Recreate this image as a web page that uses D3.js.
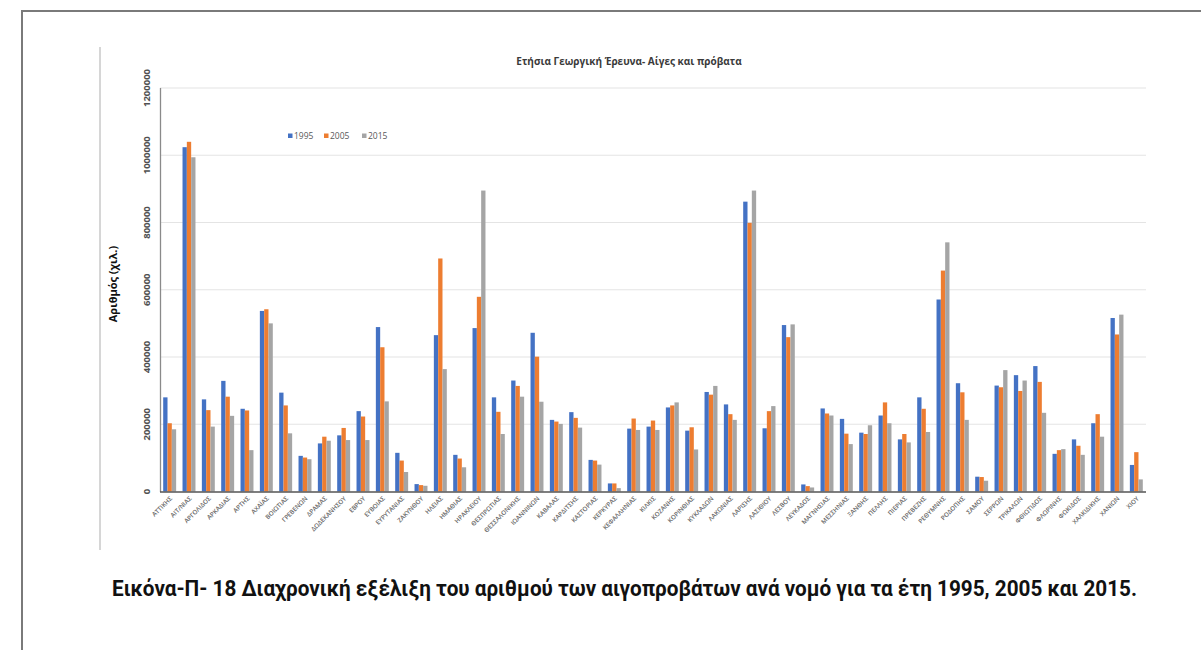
<!DOCTYPE html>
<html><head><meta charset="utf-8">
<script src="https://cdn.jsdelivr.net/npm/d3@7/dist/d3.min.js"></script>
<style>
html,body{margin:0;padding:0;background:#fff;}
svg{display:block;}
</style></head>
<body>
<svg id="c" width="1201" height="650"></svg>
<script>
const categories = ["ΑΤΤΙΚΗΣ","ΑΙΤ/ΝΙΑΣ","ΑΡΓΟΛΙΔΟΣ","ΑΡΚΑΔΙΑΣ","ΑΡΤΗΣ","ΑΧΑΪΑΣ","ΒΟΙΩΤΙΑΣ","ΓΡΕΒΕΝΩΝ","ΔΡΑΜΑΣ","ΔΩΔΕΚΑΝΗΣΟΥ","ΕΒΡΟΥ","ΕΥΒΟΙΑΣ","ΕΥΡΥΤΑΝΙΑΣ","ΖΑΚΥΝΘΟΥ","ΗΛΕΙΑΣ","ΗΜΑΘΙΑΣ","ΗΡΑΚΛΕΙΟΥ","ΘΕΣΠΡΩΤΙΑΣ","ΘΕΣΣΑΛΟΝΙΚΗΣ","ΙΩΑΝΝΙΝΩΝ","ΚΑΒΑΛΑΣ","ΚΑΡΔΙΤΣΗΣ","ΚΑΣΤΟΡΙΑΣ","ΚΕΡΚΥΡΑΣ","ΚΕΦΑΛΛΗΝΙΑΣ","ΚΙΛΚΙΣ","ΚΟΖΑΝΗΣ","ΚΟΡΙΝΘΙΑΣ","ΚΥΚΛΑΔΩΝ","ΛΑΚΩΝΙΑΣ","ΛΑΡΙΣΗΣ","ΛΑΣΙΘΙΟΥ","ΛΕΣΒΟΥ","ΛΕΥΚΑΔΟΣ","ΜΑΓΝΗΣΙΑΣ","ΜΕΣΣΗΝΙΑΣ","ΞΑΝΘΗΣ","ΠΕΛΛΗΣ","ΠΙΕΡΙΑΣ","ΠΡΕΒΕΖΗΣ","ΡΕΘΥΜΝΗΣ","ΡΟΔΟΠΗΣ","ΣΑΜΟΥ","ΣΕΡΡΩΝ","ΤΡΙΚΑΛΩΝ","ΦΘΙΩΤΙΔΟΣ","ΦΛΩΡΙΝΗΣ","ΦΩΚΙΔΟΣ","ΧΑΛΚΙΔΙΚΗΣ","ΧΑΝΙΩΝ","ΧΙΟΥ"];
const seriesNames = ["1995","2005","2015"];
const v1995 = [280000,1024000,274000,329000,246000,537000,294000,106000,143000,167000,239000,489000,115000,22000,465000,109000,486000,280000,330000,472000,213000,236000,94000,24000,187000,193000,250000,181000,296000,259000,862000,188000,495000,21000,247000,216000,175000,226000,155000,280000,571000,322000,44000,315000,346000,373000,112000,155000,203000,516000,79000];
const v2005 = [203000,1040000,242000,282000,241000,542000,256000,101000,163000,189000,223000,429000,92000,19000,693000,98000,579000,237000,314000,401000,208000,219000,92000,24000,217000,211000,256000,191000,288000,230000,799000,239000,459000,16000,232000,172000,171000,265000,171000,246000,657000,295000,43000,310000,299000,326000,123000,136000,230000,467000,117000];
const v2015 = [185000,994000,193000,225000,123000,500000,173000,96000,151000,153000,153000,268000,58000,17000,364000,72000,895000,171000,282000,267000,201000,190000,80000,10000,183000,183000,265000,125000,314000,213000,895000,254000,497000,12000,226000,141000,197000,203000,146000,177000,741000,213000,32000,361000,330000,234000,126000,109000,163000,526000,36000];
const yTicks = [0,200000,400000,600000,800000,1000000,1200000];
const colors = ["#4472C4","#ED7D31","#A5A5A5"];
const chartTitle = "Ετήσια Γεωργική Έρευνα- Αίγες και πρόβατα";
const yTitle = "Αριθμός (χιλ.)";
const caption = "Εικόνα-Π- 18 Διαχρονική εξέλιξη του αριθμού των αιγοπροβάτων ανά νομό για τα έτη 1995, 2005 και 2015.";

const values = [v1995, v2005, v2015];
const data = categories.map((c,i)=>({cat:c, vals: seriesNames.map((s,k)=>({s, v: values[k][i], k}))}));

const svg = d3.select("#c");

// page frame (top + left)
svg.append("path").attr("d","M22,650 V11 H1201").attr("fill","none").attr("stroke","#7a7a7a").attr("stroke-width",2);
// embedded image left edge
svg.append("line").attr("x1",100).attr("x2",100).attr("y1",47).attr("y2",550).attr("stroke","#c8c8c8").attr("stroke-width",1.5);

const x0 = d3.scaleBand().domain(categories).range([160,1146]).paddingInner(0.33).paddingOuter(0.165);
const x1 = d3.scaleBand().domain(seriesNames).range([0,x0.bandwidth()]);
const y = d3.scaleLinear().domain([0,1200000]).range([491.5,88]);

// gridlines
svg.append("g").selectAll("line").data(yTicks.filter(t=>t>0)).join("line")
  .attr("x1",160).attr("x2",1146).attr("y1",d=>y(d)).attr("y2",d=>y(d))
  .attr("stroke","#e4e4e4").attr("stroke-width",1.2);

// bars
const g = svg.append("g");
g.selectAll("g").data(data).join("g")
  .attr("transform",d=>`translate(${x0(d.cat)},0)`)
  .selectAll("rect").data(d=>d.vals).join("rect")
  .attr("x",d=>x1(d.s)).attr("width",x1.bandwidth())
  .attr("y",d=>y(d.v)).attr("height",d=>y(0)-y(d.v))
  .attr("fill",d=>colors[d.k]);

// y axis line
svg.append("line").attr("x1",160.5).attr("x2",160.5).attr("y1",88).attr("y2",492).attr("stroke","#8a8a8a").attr("stroke-width",1.3);
// x baseline
svg.append("line").attr("x1",160).attr("x2",1146).attr("y1",492).attr("y2",492).attr("stroke","#555").attr("stroke-width",1.3);

// y tick labels (rotated)
svg.append("g").selectAll("text").data(yTicks).join("text")
  .attr("transform",d=>`translate(150,${y(d)}) rotate(-90)`)
  .attr("text-anchor","middle")
  .attr("font-family","Open Sans, sans-serif").attr("font-weight","bold")
  .attr("font-size",9.5).attr("fill","#505050")
  .text(d=>String(d));

// x tick labels
svg.append("g").selectAll("text").data(categories).join("text")
  .attr("transform",d=>`translate(${x0(d)+x0.bandwidth()/2+3},${499}) rotate(-45)`)
  .attr("text-anchor","end")
  .attr("font-family","Open Sans, sans-serif").attr("font-weight","600")
  .attr("font-size",6.3).attr("fill","#666")
  .text(d=>d);

// y title
svg.append("text").attr("transform","translate(117,284) rotate(-90)")
  .attr("text-anchor","middle").attr("font-family","Open Sans, sans-serif")
  .attr("font-weight","bold").attr("font-size",11).attr("fill","#111")
  .text(yTitle);

// chart title
svg.append("text").attr("x",629).attr("y",65).attr("text-anchor","middle")
  .attr("font-family","Open Sans, sans-serif").attr("font-weight","bold")
  .attr("font-size",10).attr("fill","#3a3a3a").text(chartTitle);

// legend
const legX = [288,324,362];
const lg = svg.append("g");
seriesNames.forEach((s,k)=>{
  lg.append("rect").attr("x",legX[k]).attr("y",133.5).attr("width",4.5).attr("height",4.5).attr("fill",colors[k]);
  lg.append("text").attr("x",legX[k]+6).attr("y",139).attr("font-family","Open Sans, sans-serif")
    .attr("font-size",8.5).attr("fill","#595959").text(s);
});

// caption
svg.append("text").attr("x",112).attr("y",596)
  .attr("font-family","Roboto, sans-serif").attr("font-weight","bold")
  .attr("font-size",22).attr("fill","#111")
  .attr("textLength",1025).attr("lengthAdjust","spacingAndGlyphs")
  .text(caption);
</script>
</body></html>
